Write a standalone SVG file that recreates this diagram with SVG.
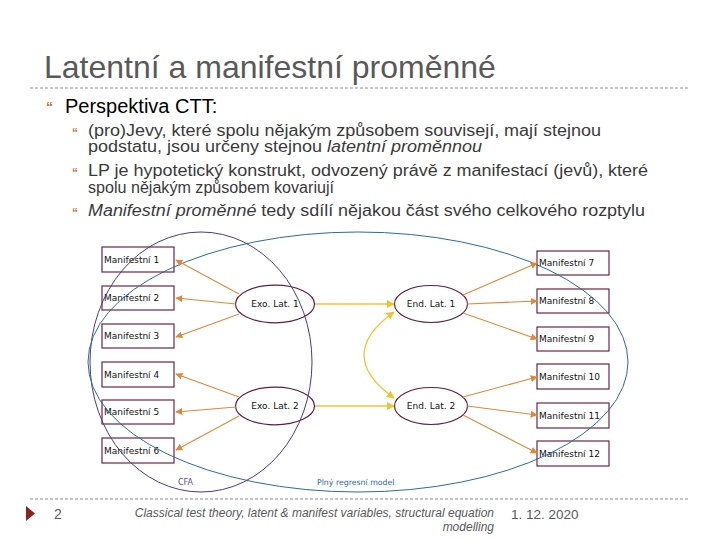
<svg xmlns="http://www.w3.org/2000/svg" width="720" height="540" viewBox="0 0 720 540">
<style>
.title{font-family:"Liberation Sans",Arial,sans-serif;font-size:32px;fill:#595959}
.l1{font-family:"Liberation Sans",Arial,sans-serif;font-size:20px;fill:#000}
.l2{font-family:"Liberation Sans",Arial,sans-serif;font-size:16px;fill:#3a3a3a}
.bul{font-family:"Liberation Sans",Arial,sans-serif;font-weight:bold;fill:#c4743c}
.box{fill:#fff;stroke:#6e2545;stroke-width:1.2}
.ell{fill:#fff;stroke:#5e1f3e;stroke-width:1.2}
.nt{font-family:"DejaVu Sans",Verdana,sans-serif;font-size:9px;fill:#111}
.nc{font-family:"DejaVu Sans",Verdana,sans-serif;font-size:9px;fill:#111;text-anchor:middle}
.or{stroke:#e0873a;stroke-width:1.1;fill:none;marker-end:url(#ao)}
.ye{stroke:#ecc631;stroke-width:1.3;fill:none}
.dash{stroke:#8c8c8c;stroke-width:1;stroke-dasharray:3 2}
.foot{font-family:"Liberation Sans",Arial,sans-serif;fill:#595959}
</style>
<defs>
<marker id="ao" viewBox="0 0 10 10" refX="9" refY="5" markerWidth="7" markerHeight="7" markerUnits="userSpaceOnUse" orient="auto"><path d="M0,0 L10,5 L0,10 z" fill="#e0873a"/></marker>
<marker id="ay" viewBox="0 0 10 10" refX="9" refY="5" markerWidth="8" markerHeight="8" markerUnits="userSpaceOnUse" orient="auto"><path d="M0,0 L10,5 L0,10 z" fill="#ecc631"/></marker>
<marker id="ays" viewBox="0 0 10 10" refX="1" refY="5" markerWidth="8" markerHeight="8" markerUnits="userSpaceOnUse" orient="auto"><path d="M10,0 L0,5 L10,10 z" fill="#ecc631"/></marker>
</defs>
<rect width="720" height="540" fill="#fff"/>
<text class="title" x="44" y="78">Latentní a manifestní proměnné</text>
<line class="dash" x1="30" y1="88" x2="688" y2="88"/>
<text class="bul" x="46" y="112" font-size="14">“</text>
<text class="l1" x="65" y="113">Perspektiva CTT:</text>
<text class="bul" x="72" y="137" font-size="12">“</text>
<text class="l2" x="88" y="136" textLength="513" lengthAdjust="spacingAndGlyphs">(pro)Jevy, které spolu nějakým způsobem souvisejí, mají stejnou</text>
<text class="l2" x="88" y="152" textLength="394" lengthAdjust="spacingAndGlyphs">podstatu, jsou určeny stejnou <tspan font-style="italic">latentní proměnnou</tspan></text>
<text class="bul" x="72" y="177" font-size="12">“</text>
<text class="l2" x="88" y="176" textLength="560" lengthAdjust="spacingAndGlyphs">LP je hypotetický konstrukt, odvozený právě z manifestací (jevů), které</text>
<text class="l2" x="88" y="193" textLength="246" lengthAdjust="spacingAndGlyphs">spolu nějakým způsobem kovariují</text>
<text class="bul" x="72" y="217" font-size="12">“</text>
<text class="l2" x="88" y="216" textLength="557" lengthAdjust="spacingAndGlyphs"><tspan font-style="italic">Manifestní proměnné</tspan> tedy sdílí nějakou část svého celkového rozptylu</text>

<g id="m1"><rect class="box" x="102" y="247" width="72" height="25"/><text class="nt" x="104" y="263">Manifestní 1</text></g>
<g id="m2"><rect class="box" x="102" y="286" width="72" height="24"/><text class="nt" x="104" y="301">Manifestní 2</text></g>
<g id="m3"><rect class="box" x="102" y="324" width="72" height="24"/><text class="nt" x="104" y="339">Manifestní 3</text></g>
<g id="m4"><rect class="box" x="102" y="362" width="72" height="25"/><text class="nt" x="104" y="378">Manifestní 4</text></g>
<g id="m5"><rect class="box" x="102" y="400" width="72" height="24"/><text class="nt" x="104" y="415">Manifestní 5</text></g>
<g id="m6"><rect class="box" x="102" y="438" width="72" height="25"/><text class="nt" x="104" y="454">Manifestní 6</text></g>
<g id="m7"><rect class="box" x="537" y="251" width="72" height="24"/><text class="nt" x="539" y="266">Manifestní 7</text></g>
<g id="m8"><rect class="box" x="537" y="289" width="72" height="24"/><text class="nt" x="539" y="304">Manifestní 8</text></g>
<g id="m9"><rect class="box" x="537" y="327" width="72" height="24"/><text class="nt" x="539" y="342">Manifestní 9</text></g>
<g id="m10"><rect class="box" x="537" y="364" width="72" height="25"/><text class="nt" x="539" y="380">Manifestní 10</text></g>
<g id="m11"><rect class="box" x="537" y="403" width="72" height="25"/><text class="nt" x="539" y="419">Manifestní 11</text></g>
<g id="m12"><rect class="box" x="537" y="441" width="72" height="25"/><text class="nt" x="539" y="457">Manifestní 12</text></g>
<g id="exo1"><ellipse class="ell" cx="275" cy="304" rx="39.5" ry="18.8"/><text class="nc" x="275" y="307">Exo. Lat. 1</text></g>
<g id="exo2"><ellipse class="ell" cx="275" cy="406" rx="39.5" ry="18.8"/><text class="nc" x="275" y="409">Exo. Lat. 2</text></g>
<g id="end1"><ellipse class="ell" cx="431" cy="304" rx="36.5" ry="18.5"/><text class="nc" x="431" y="307">End. Lat. 1</text></g>
<g id="end2"><ellipse class="ell" cx="431" cy="406" rx="36.5" ry="18.5"/><text class="nc" x="431" y="409">End. Lat. 2</text></g>

<g id="models">
<ellipse cx="201" cy="362" rx="111" ry="130" fill="none" stroke="#4b3b82" stroke-width="1"/>
<ellipse cx="358" cy="362" rx="270" ry="130" fill="none" stroke="#2f6a9c" stroke-width="1"/>
<text x="178" y="485" font-family="DejaVu Sans,Verdana,sans-serif" font-size="8px" fill="#5a4a9e">CFA</text>
<text x="317" y="485" font-family="DejaVu Sans,Verdana,sans-serif" font-size="7.8px" fill="#2f6a9c">Plný regresní model</text>
</g>

<g id="connectors">
<line class="or" x1="239" y1="294" x2="176" y2="260"/>
<line class="or" x1="236" y1="304" x2="176" y2="298"/>
<line class="or" x1="239" y1="314" x2="176" y2="337"/>
<line class="or" x1="239" y1="397" x2="176" y2="374"/>
<line class="or" x1="236" y1="407" x2="176" y2="412"/>
<line class="or" x1="239" y1="416" x2="176" y2="450"/>
<line class="or" x1="463" y1="295" x2="537" y2="263"/>
<line class="or" x1="467" y1="304" x2="537" y2="301"/>
<line class="or" x1="463" y1="313" x2="537" y2="339"/>
<line class="or" x1="463" y1="397" x2="537" y2="377"/>
<line class="or" x1="467" y1="406" x2="537" y2="415"/>
<line class="or" x1="463" y1="415" x2="537" y2="453"/>
<line class="ye" x1="315" y1="304" x2="394" y2="304" marker-end="url(#ay)"/>
<line class="ye" x1="315" y1="406" x2="394" y2="406" marker-end="url(#ay)"/>
<path class="ye" d="M394,312 Q334,355 394,398" marker-start="url(#ays)" marker-end="url(#ay)"/>
</g>

<line class="dash" x1="30" y1="499" x2="688" y2="499"/>
<path d="M26,506 L35,513.5 L26,521 z" fill="#8b2323"/>
<text class="foot" x="54" y="519" font-size="14px">2</text>
<text class="foot" x="494" y="517" font-size="12px" font-style="italic" text-anchor="end">Classical test theory, latent &amp; manifest variables, structural equation</text>
<text class="foot" x="494" y="531" font-size="12px" font-style="italic" text-anchor="end">modelling</text>
<text class="foot" x="511" y="519" font-size="13.5px">1. 12. 2020</text>
</svg>
